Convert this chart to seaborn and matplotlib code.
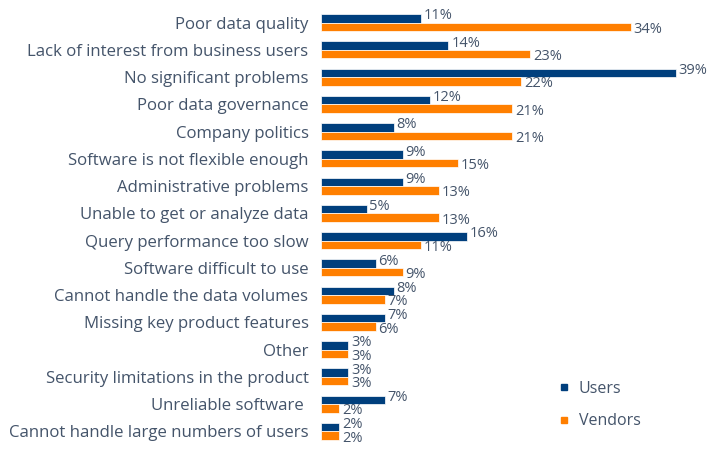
import matplotlib
matplotlib.use('Agg')
import matplotlib.pyplot as plt
from matplotlib.lines import Line2D
import seaborn as sns
import pandas as pd

# Problems reported, top to bottom
categories = [
    'Poor data quality',
    'Lack of interest from business users',
    'No significant problems',
    'Poor data governance',
    'Company politics',
    'Software is not flexible enough',
    'Administrative problems',
    'Unable to get or analyze data',
    'Query performance too slow',
    'Software difficult to use',
    'Cannot handle the data volumes',
    'Missing key product features',
    'Other',
    'Security limitations in the product',
    'Unreliable software ',
    'Cannot handle large numbers of users',
]
users = [11, 14, 39, 12, 8, 9, 9, 5, 16, 6, 8, 7, 3, 3, 7, 2]
vendors = [34, 23, 22, 21, 21, 15, 13, 13, 11, 9, 7, 6, 3, 3, 2, 2]
series = ['Users', 'Vendors']

blue = '#003f7d'
orange = '#ff7f00'
text_color = '#44546a'

df = pd.DataFrame({
    'problem': categories * 2,
    'pct': users + vendors,
    'who': ['Users'] * len(users) + ['Vendors'] * len(vendors),
})

sns.set_theme(style='white')
plt.rcParams['font.family'] = ['Open Sans', 'DejaVu Sans']

fig = plt.figure(figsize=(7.17, 4.61), dpi=100)
ax = fig.add_axes([321 / 717, 16 / 461, 396 / 717, 436 / 461])

sns.barplot(data=df, y='problem', x='pct', hue='who', hue_order=series,
            palette=[blue, orange], saturation=1, orient='h', width=0.63,
            edgecolor='white', linewidth=0.5, ax=ax, legend=False)

# percentage labels at the end of each bar, users nudged up, vendors down
for cont, dy in zip(ax.containers, [1.8, -1.8]):
    anns = ax.bar_label(cont, labels=[f'{v:.0f}%' for v in cont.datavalues],
                        padding=2, fontsize=10.5, color=text_color)
    for a in anns:
        a.xyann = (2, dy)

ax.set_xlim(0, 43.5)
ax.set_xlabel('')
ax.set_ylabel('')
ax.set_xticks([])
ax.tick_params(axis='y', length=0, pad=9, labelsize=12.1, labelcolor=text_color)
sns.despine(ax=ax, left=True, bottom=True)

handles = [Line2D([], [], marker='s', linestyle='', color=c, markersize=4.5)
           for c in [blue, orange]]
leg = ax.legend(handles, series, loc='center left',
                bbox_to_anchor=(224 / 396, 0.092), frameon=False,
                fontsize=11.5, labelspacing=1.05, handlelength=0.6,
                handletextpad=0.6)
for t in leg.get_texts():
    t.set_color(text_color)

fig.savefig('out.png', dpi=100)
